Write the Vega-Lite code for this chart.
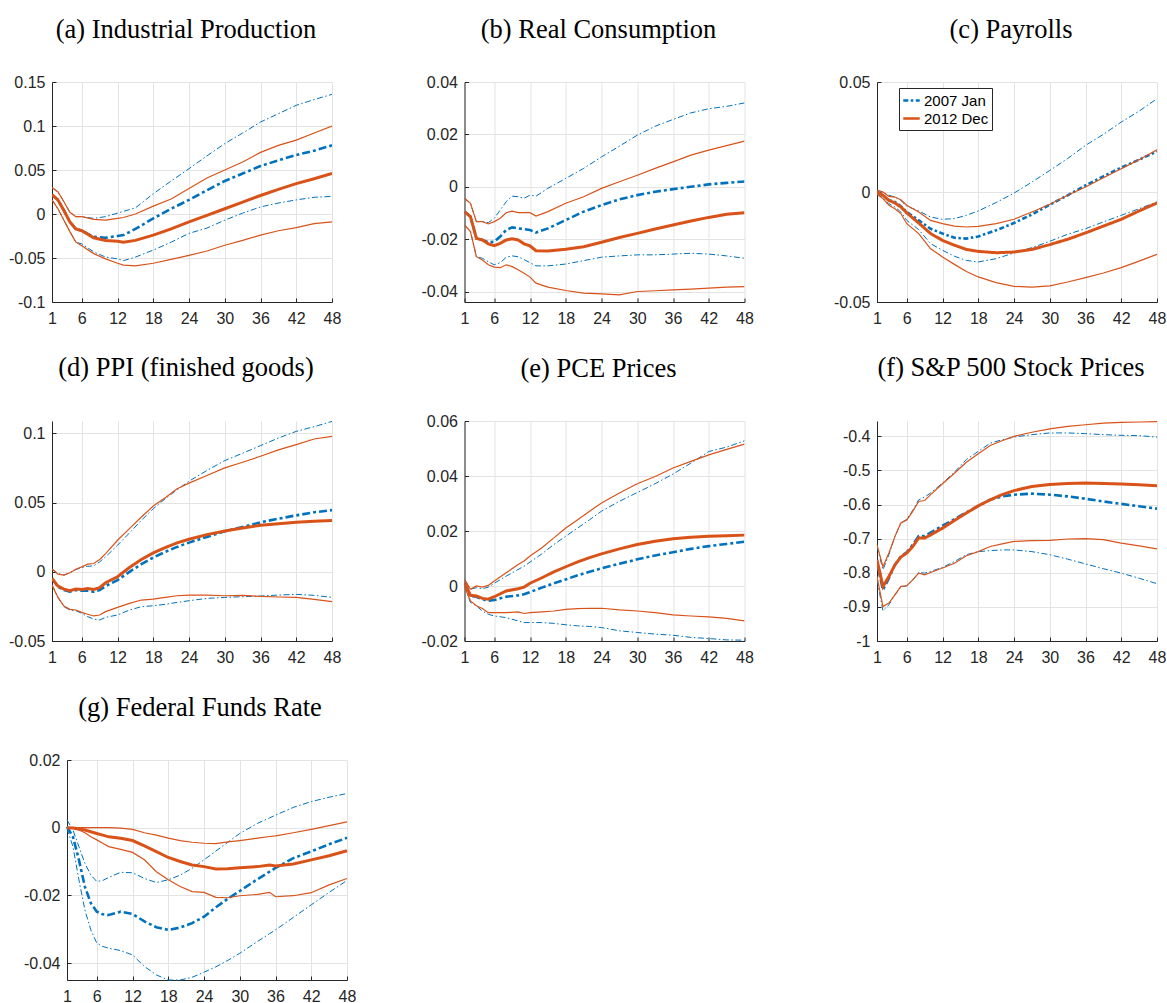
{
 "$schema": "https://vega.github.io/schema/vega-lite/v6.json",
 "padding": {"left": 8, "top": 16, "right": 5, "bottom": 0},
 "data": {"values": [
{"p":"a","h":1,"jh":0.030,"dh":0.030,"j":0.022,"d":0.022,"jl":0.016,"dl":0.016},
{"p":"a","h":2,"jh":0.025,"dh":0.025,"j":0.016,"d":0.016,"jl":0.006,"dl":0.006},
{"p":"a","h":3,"jh":0.014,"dh":0.014,"j":0.004,"d":0.004,"jl":-0.007,"dl":-0.007},
{"p":"a","h":4,"jh":0.002,"dh":0.002,"j":-0.009,"d":-0.009,"jl":-0.02,"dl":-0.02},
{"p":"a","h":5,"jh":-0.003,"dh":-0.003,"j":-0.017,"d":-0.017,"jl":-0.032,"dl":-0.032},
{"p":"a","h":6,"jh":-0.003,"dh":-0.003,"j":-0.019,"d":-0.019,"jl":-0.034,"dl":-0.036},
{"p":"a","h":8,"jh":-0.005,"dh":-0.006,"j":-0.026,"d":-0.027,"jl":-0.043,"dl":-0.045},
{"p":"a","h":10,"jh":-0.003,"dh":-0.007,"j":-0.027,"d":-0.030,"jl":-0.049,"dl":-0.051},
{"p":"a","h":12,"jh":0.001,"dh":-0.005,"j":-0.025,"d":-0.031,"jl":-0.051,"dl":-0.056},
{"p":"a","h":13,"jh":0.003,"dh":-0.004,"j":-0.024,"d":-0.032,"jl":-0.053,"dl":-0.058},
{"p":"a","h":15,"jh":0.007,"dh":0.0,"j":-0.017,"d":-0.030,"jl":-0.049,"dl":-0.059},
{"p":"a","h":18,"jh":0.023,"dh":0.009,"j":-0.005,"d":-0.024,"jl":-0.041,"dl":-0.056},
{"p":"a","h":21,"jh":0.0375,"dh":0.017,"j":0.006,"d":-0.017,"jl":-0.032,"dl":-0.0515},
{"p":"a","h":24,"jh":0.0515,"dh":0.029,"j":0.016,"d":-0.009,"jl":-0.022,"dl":-0.047},
{"p":"a","h":27,"jh":0.066,"dh":0.041,"j":0.027,"d":-0.0015,"jl":-0.016,"dl":-0.042},
{"p":"a","h":30,"jh":0.08,"dh":0.05,"j":0.0375,"d":0.006,"jl":-0.007,"dl":-0.0355},
{"p":"a","h":33,"jh":0.092,"dh":0.059,"j":0.046,"d":0.0135,"jl":0.001,"dl":-0.030},
{"p":"a","h":36,"jh":0.1045,"dh":0.07,"j":0.0545,"d":0.021,"jl":0.008,"dl":-0.024},
{"p":"a","h":39,"jh":0.114,"dh":0.078,"j":0.061,"d":0.028,"jl":0.0125,"dl":-0.019},
{"p":"a","h":42,"jh":0.1235,"dh":0.084,"j":0.067,"d":0.0345,"jl":0.016,"dl":-0.0155},
{"p":"a","h":45,"jh":0.13,"dh":0.092,"j":0.072,"d":0.040,"jl":0.019,"dl":-0.011},
{"p":"a","h":48,"jh":0.136,"dh":0.1,"j":0.078,"d":0.046,"jl":0.020,"dl":-0.009},

{"p":"b","h":1,"jh":-0.0044,"dh":-0.0044,"j":-0.0095,"d":-0.0095,"jl":-0.0146,"dl":-0.0146},
{"p":"b","h":2,"jh":-0.0063,"dh":-0.0063,"j":-0.0114,"d":-0.0114,"jl":-0.0171,"dl":-0.0171},
{"p":"b","h":3,"jh":-0.0133,"dh":-0.0133,"j":-0.0197,"d":-0.0197,"jl":-0.0267,"dl":-0.0267},
{"p":"b","h":4,"jh":-0.0133,"dh":-0.0133,"j":-0.0203,"d":-0.0203,"jl":-0.0273,"dl":-0.028},
{"p":"b","h":5,"jh":-0.0137,"dh":-0.0142,"j":-0.0212,"d":-0.0218,"jl":-0.0286,"dl":-0.0298},
{"p":"b","h":6,"jh":-0.012,"dh":-0.0133,"j":-0.021,"d":-0.0225,"jl":-0.0298,"dl":-0.0307},
{"p":"b","h":7,"jh":-0.0089,"dh":-0.012,"j":-0.019,"d":-0.0216,"jl":-0.029,"dl":-0.0309},
{"p":"b","h":8,"jh":-0.0057,"dh":-0.0099,"j":-0.0165,"d":-0.0203,"jl":-0.0269,"dl":-0.0298},
{"p":"b","h":9,"jh":-0.0036,"dh":-0.0093,"j":-0.0155,"d":-0.0199,"jl":-0.0264,"dl":-0.0305},
{"p":"b","h":10,"jh":-0.0038,"dh":-0.0099,"j":-0.0159,"d":-0.0203,"jl":-0.0267,"dl":-0.0317},
{"p":"b","h":11,"jh":-0.0044,"dh":-0.0099,"j":-0.0162,"d":-0.0218,"jl":-0.0278,"dl":-0.033},
{"p":"b","h":12,"jh":-0.0032,"dh":-0.0099,"j":-0.0165,"d":-0.0226,"jl":-0.029,"dl":-0.0345},
{"p":"b","h":13,"jh":-0.0036,"dh":-0.0112,"j":-0.0175,"d":-0.0244,"jl":-0.0302,"dl":-0.0368},
{"p":"b","h":15,"jh":-0.0006,"dh":-0.0095,"j":-0.0159,"d":-0.0245,"jl":-0.0302,"dl":-0.0383},
{"p":"b","h":18,"jh":0.0032,"dh":-0.0063,"j":-0.0127,"d":-0.0239,"jl":-0.0295,"dl":-0.0396},
{"p":"b","h":21,"jh":0.007,"dh":-0.0038,"j":-0.0095,"d":-0.0229,"jl":-0.0282,"dl":-0.0406},
{"p":"b","h":24,"jh":0.0114,"dh":-0.0006,"j":-0.007,"d":-0.0212,"jl":-0.0269,"dl":-0.0409},
{"p":"b","h":27,"jh":0.0155,"dh":0.0019,"j":-0.0048,"d":-0.0194,"jl":-0.0264,"dl":-0.0413},
{"p":"b","h":30,"jh":0.0197,"dh":0.0044,"j":-0.0032,"d":-0.0178,"jl":-0.026,"dl":-0.04},
{"p":"b","h":33,"jh":0.0231,"dh":0.007,"j":-0.0019,"d":-0.0161,"jl":-0.026,"dl":-0.0397},
{"p":"b","h":36,"jh":0.0257,"dh":0.0095,"j":-0.0009,"d":-0.0146,"jl":-0.0257,"dl":-0.0394},
{"p":"b","h":39,"jh":0.0282,"dh":0.0121,"j":0.0,"d":-0.0131,"jl":-0.0254,"dl":-0.0391},
{"p":"b","h":42,"jh":0.0298,"dh":0.014,"j":0.0009,"d":-0.0117,"jl":-0.0257,"dl":-0.0387},
{"p":"b","h":45,"jh":0.0307,"dh":0.0157,"j":0.0015,"d":-0.0105,"jl":-0.0264,"dl":-0.0383},
{"p":"b","h":48,"jh":0.032,"dh":0.0174,"j":0.002,"d":-0.0099,"jl":-0.0273,"dl":-0.0381},

{"p":"c","h":1,"jh":0.0008,"dh":0.0008,"j":0.0,"d":0.0,"jl":-0.001,"dl":-0.001},
{"p":"c","h":2,"jh":0.0,"dh":0.0,"j":-0.0015,"d":-0.0015,"jl":-0.0026,"dl":-0.003},
{"p":"c","h":3,"jh":-0.0015,"dh":-0.002,"j":-0.0038,"d":-0.0038,"jl":-0.0053,"dl":-0.006},
{"p":"c","h":4,"jh":-0.0023,"dh":-0.0023,"j":-0.0045,"d":-0.005,"jl":-0.0068,"dl":-0.0076},
{"p":"c","h":5,"jh":-0.0038,"dh":-0.0035,"j":-0.0065,"d":-0.0068,"jl":-0.0091,"dl":-0.0098},
{"p":"c","h":6,"jh":-0.0065,"dh":-0.006,"j":-0.0091,"d":-0.0095,"jl":-0.0129,"dl":-0.0144},
{"p":"c","h":8,"jh":-0.0086,"dh":-0.0091,"j":-0.0129,"d":-0.0141,"jl":-0.0171,"dl":-0.0189},
{"p":"c","h":10,"jh":-0.0114,"dh":-0.0129,"j":-0.0167,"d":-0.0189,"jl":-0.0235,"dl":-0.0258},
{"p":"c","h":12,"jh":-0.0124,"dh":-0.0144,"j":-0.0189,"d":-0.022,"jl":-0.0265,"dl":-0.0295},
{"p":"c","h":14,"jh":-0.0121,"dh":-0.0155,"j":-0.0208,"d":-0.0242,"jl":-0.0292,"dl":-0.0329},
{"p":"c","h":16,"jh":-0.0106,"dh":-0.0159,"j":-0.0212,"d":-0.0261,"jl":-0.0311,"dl":-0.0361},
{"p":"c","h":18,"jh":-0.0086,"dh":-0.0156,"j":-0.0202,"d":-0.027,"jl":-0.0318,"dl":-0.0386},
{"p":"c","h":21,"jh":-0.0048,"dh":-0.0144,"j":-0.0174,"d":-0.0276,"jl":-0.0303,"dl":-0.0412},
{"p":"c","h":24,"jh":-0.0005,"dh":-0.0124,"j":-0.0141,"d":-0.0273,"jl":-0.0277,"dl":-0.0429},
{"p":"c","h":27,"jh":0.0045,"dh":-0.0091,"j":-0.0102,"d":-0.0261,"jl":-0.0253,"dl":-0.0432},
{"p":"c","h":30,"jh":0.0098,"dh":-0.0056,"j":-0.0058,"d":-0.0239,"jl":-0.0224,"dl":-0.0427},
{"p":"c","h":33,"jh":0.0152,"dh":-0.0015,"j":-0.0015,"d":-0.0215,"jl":-0.0192,"dl":-0.0409},
{"p":"c","h":36,"jh":0.0212,"dh":0.0023,"j":0.003,"d":-0.0186,"jl":-0.0167,"dl":-0.0389},
{"p":"c","h":39,"jh":0.0262,"dh":0.0065,"j":0.0071,"d":-0.0155,"jl":-0.0136,"dl":-0.0368},
{"p":"c","h":42,"jh":0.0318,"dh":0.0106,"j":0.0111,"d":-0.0124,"jl":-0.0106,"dl":-0.0344},
{"p":"c","h":45,"jh":0.0368,"dh":0.0147,"j":0.0147,"d":-0.0086,"jl":-0.0076,"dl":-0.0314},
{"p":"c","h":48,"jh":0.0424,"dh":0.0192,"j":0.0185,"d":-0.005,"jl":-0.0045,"dl":-0.0283},

{"p":"d","h":1,"jh":0.002,"dh":0.002,"j":-0.0048,"d":-0.0048,"jl":-0.0096,"dl":-0.0096},
{"p":"d","h":2,"jh":-0.0012,"dh":-0.0017,"j":-0.0108,"d":-0.0103,"jl":-0.0185,"dl":-0.0185},
{"p":"d","h":3,"jh":-0.0024,"dh":-0.0024,"j":-0.0132,"d":-0.0125,"jl":-0.0252,"dl":-0.0247},
{"p":"d","h":4,"jh":-0.0007,"dh":-0.0007,"j":-0.0144,"d":-0.0137,"jl":-0.0276,"dl":-0.0271},
{"p":"d","h":5,"jh":0.0017,"dh":0.0019,"j":-0.0132,"d":-0.0125,"jl":-0.0281,"dl":-0.0276},
{"p":"d","h":6,"jh":0.0031,"dh":0.0036,"j":-0.0137,"d":-0.0127,"jl":-0.03,"dl":-0.0293},
{"p":"d","h":7,"jh":0.004,"dh":0.0055,"j":-0.0137,"d":-0.012,"jl":-0.0324,"dl":-0.0307},
{"p":"d","h":8,"jh":0.0043,"dh":0.006,"j":-0.0144,"d":-0.0127,"jl":-0.0341,"dl":-0.0319},
{"p":"d","h":9,"jh":0.0072,"dh":0.0089,"j":-0.0132,"d":-0.0115,"jl":-0.0348,"dl":-0.0312},
{"p":"d","h":10,"jh":0.0108,"dh":0.0132,"j":-0.0103,"d":-0.0079,"jl":-0.0329,"dl":-0.0288},
{"p":"d","h":12,"jh":0.0192,"dh":0.0228,"j":-0.006,"d":-0.0036,"jl":-0.0312,"dl":-0.0257},
{"p":"d","h":14,"jh":0.0281,"dh":0.0312,"j":0.0,"d":0.0031,"jl":-0.0276,"dl":-0.0228},
{"p":"d","h":16,"jh":0.0372,"dh":0.0396,"j":0.0055,"d":0.0089,"jl":-0.0252,"dl":-0.0204},
{"p":"d","h":18,"jh":0.0456,"dh":0.0475,"j":0.0103,"d":0.0137,"jl":-0.0245,"dl":-0.0197},
{"p":"d","h":20,"jh":0.0528,"dh":0.0535,"j":0.0144,"d":0.0175,"jl":-0.0235,"dl":-0.0185},
{"p":"d","h":22,"jh":0.0593,"dh":0.06,"j":0.018,"d":0.0209,"jl":-0.0221,"dl":-0.0173},
{"p":"d","h":24,"jh":0.0655,"dh":0.0641,"j":0.0211,"d":0.0235,"jl":-0.0209,"dl":-0.0168},
{"p":"d","h":27,"jh":0.0732,"dh":0.0696,"j":0.0252,"d":0.0269,"jl":-0.0192,"dl":-0.0168},
{"p":"d","h":30,"jh":0.0804,"dh":0.0751,"j":0.0293,"d":0.0295,"jl":-0.0185,"dl":-0.0173},
{"p":"d","h":33,"jh":0.0857,"dh":0.0792,"j":0.0324,"d":0.0317,"jl":-0.018,"dl":-0.017},
{"p":"d","h":36,"jh":0.0912,"dh":0.0835,"j":0.0358,"d":0.0336,"jl":-0.0175,"dl":-0.0178},
{"p":"d","h":39,"jh":0.0967,"dh":0.0881,"j":0.0384,"d":0.0348,"jl":-0.0168,"dl":-0.0182},
{"p":"d","h":42,"jh":0.1015,"dh":0.0919,"j":0.0408,"d":0.0358,"jl":-0.0163,"dl":-0.0185},
{"p":"d","h":45,"jh":0.1049,"dh":0.096,"j":0.043,"d":0.0365,"jl":-0.017,"dl":-0.0199},
{"p":"d","h":48,"jh":0.1087,"dh":0.0979,"j":0.0446,"d":0.037,"jl":-0.0185,"dl":-0.0216},

{"p":"e","h":1,"jh":0.0024,"dh":0.0024,"j":0.0014,"d":0.0014,"jl":-0.0002,"dl":-0.0002},
{"p":"e","h":2,"jh":-0.0012,"dh":-0.0012,"j":-0.0036,"d":-0.0034,"jl":-0.006,"dl":-0.0054},
{"p":"e","h":3,"jh":-0.0006,"dh":0.0,"j":-0.0039,"d":-0.0036,"jl":-0.0072,"dl":-0.0072},
{"p":"e","h":4,"jh":-0.001,"dh":-0.0004,"j":-0.0048,"d":-0.0045,"jl":-0.0091,"dl":-0.0082},
{"p":"e","h":5,"jh":-0.0004,"dh":0.0002,"j":-0.0054,"d":-0.0048,"jl":-0.0103,"dl":-0.0097},
{"p":"e","h":6,"jh":0.001,"dh":0.0018,"j":-0.0051,"d":-0.0039,"jl":-0.0109,"dl":-0.0097},
{"p":"e","h":8,"jh":0.0036,"dh":0.0048,"j":-0.0039,"d":-0.0018,"jl":-0.0115,"dl":-0.0097},
{"p":"e","h":10,"jh":0.006,"dh":0.0078,"j":-0.0034,"d":-0.001,"jl":-0.0127,"dl":-0.0094},
{"p":"e","h":11,"jh":0.0072,"dh":0.0091,"j":-0.003,"d":-0.0004,"jl":-0.0133,"dl":-0.01},
{"p":"e","h":12,"jh":0.0087,"dh":0.0109,"j":-0.0022,"d":0.001,"jl":-0.0133,"dl":-0.0097},
{"p":"e","h":14,"jh":0.0117,"dh":0.0139,"j":-0.0006,"d":0.003,"jl":-0.0133,"dl":-0.0094},
{"p":"e","h":16,"jh":0.0151,"dh":0.0175,"j":0.001,"d":0.0051,"jl":-0.0136,"dl":-0.0091},
{"p":"e","h":18,"jh":0.0181,"dh":0.0211,"j":0.0024,"d":0.007,"jl":-0.0141,"dl":-0.0085},
{"p":"e","h":20,"jh":0.0211,"dh":0.0241,"j":0.0039,"d":0.0088,"jl":-0.0145,"dl":-0.0082},
{"p":"e","h":22,"jh":0.0241,"dh":0.0272,"j":0.0052,"d":0.0103,"jl":-0.0147,"dl":-0.0081},
{"p":"e","h":24,"jh":0.0272,"dh":0.0302,"j":0.0064,"d":0.0117,"jl":-0.0151,"dl":-0.0081},
{"p":"e","h":27,"jh":0.0308,"dh":0.0338,"j":0.0081,"d":0.0135,"jl":-0.0163,"dl":-0.0087},
{"p":"e","h":30,"jh":0.034,"dh":0.0372,"j":0.0097,"d":0.0151,"jl":-0.0169,"dl":-0.0091},
{"p":"e","h":33,"jh":0.0372,"dh":0.0398,"j":0.0111,"d":0.0163,"jl":-0.0175,"dl":-0.0097},
{"p":"e","h":36,"jh":0.0407,"dh":0.0429,"j":0.0123,"d":0.0172,"jl":-0.0179,"dl":-0.0105},
{"p":"e","h":39,"jh":0.0447,"dh":0.0453,"j":0.0135,"d":0.0177,"jl":-0.0187,"dl":-0.0109},
{"p":"e","h":42,"jh":0.0489,"dh":0.0477,"j":0.0145,"d":0.0181,"jl":-0.0191,"dl":-0.0112},
{"p":"e","h":45,"jh":0.0505,"dh":0.0497,"j":0.0153,"d":0.0183,"jl":-0.0196,"dl":-0.0118},
{"p":"e","h":48,"jh":0.0528,"dh":0.0516,"j":0.0161,"d":0.0185,"jl":-0.0197,"dl":-0.0127},

{"p":"f","h":1,"jh":-0.723,"dh":-0.718,"j":-0.772,"d":-0.762,"jl":-0.821,"dl":-0.811},
{"p":"f","h":2,"jh":-0.791,"dh":-0.782,"j":-0.85,"d":-0.84,"jl":-0.911,"dl":-0.899},
{"p":"f","h":3,"jh":-0.747,"dh":-0.742,"j":-0.816,"d":-0.811,"jl":-0.894,"dl":-0.889},
{"p":"f","h":4,"jh":-0.694,"dh":-0.694,"j":-0.777,"d":-0.777,"jl":-0.865,"dl":-0.865},
{"p":"f","h":5,"jh":-0.654,"dh":-0.654,"j":-0.752,"d":-0.754,"jl":-0.842,"dl":-0.84},
{"p":"f","h":6,"jh":-0.643,"dh":-0.645,"j":-0.74,"d":-0.742,"jl":-0.838,"dl":-0.838},
{"p":"f","h":7,"jh":-0.617,"dh":-0.62,"j":-0.718,"d":-0.723,"jl":-0.821,"dl":-0.821},
{"p":"f","h":8,"jh":-0.586,"dh":-0.591,"j":-0.692,"d":-0.698,"jl":-0.799,"dl":-0.801},
{"p":"f","h":9,"jh":-0.578,"dh":-0.588,"j":-0.692,"d":-0.698,"jl":-0.801,"dl":-0.806},
{"p":"f","h":10,"jh":-0.566,"dh":-0.571,"j":-0.682,"d":-0.689,"jl":-0.796,"dl":-0.799},
{"p":"f","h":12,"jh":-0.537,"dh":-0.539,"j":-0.662,"d":-0.669,"jl":-0.784,"dl":-0.786},
{"p":"f","h":14,"jh":-0.505,"dh":-0.508,"j":-0.643,"d":-0.647,"jl":-0.767,"dl":-0.772},
{"p":"f","h":16,"jh":-0.468,"dh":-0.476,"j":-0.623,"d":-0.625,"jl":-0.747,"dl":-0.75},
{"p":"f","h":18,"jh":-0.444,"dh":-0.451,"j":-0.604,"d":-0.604,"jl":-0.738,"dl":-0.738},
{"p":"f","h":20,"jh":-0.42,"dh":-0.427,"j":-0.586,"d":-0.586,"jl":-0.735,"dl":-0.723},
{"p":"f","h":22,"jh":-0.41,"dh":-0.413,"j":-0.576,"d":-0.571,"jl":-0.733,"dl":-0.715},
{"p":"f","h":24,"jh":-0.402,"dh":-0.4,"j":-0.571,"d":-0.559,"jl":-0.733,"dl":-0.708},
{"p":"f","h":27,"jh":-0.395,"dh":-0.388,"j":-0.568,"d":-0.547,"jl":-0.738,"dl":-0.706},
{"p":"f","h":30,"jh":-0.39,"dh":-0.378,"j":-0.571,"d":-0.541,"jl":-0.747,"dl":-0.705},
{"p":"f","h":33,"jh":-0.39,"dh":-0.371,"j":-0.576,"d":-0.538,"jl":-0.76,"dl":-0.701},
{"p":"f","h":36,"jh":-0.392,"dh":-0.366,"j":-0.583,"d":-0.537,"jl":-0.774,"dl":-0.7},
{"p":"f","h":39,"jh":-0.395,"dh":-0.361,"j":-0.591,"d":-0.538,"jl":-0.788,"dl":-0.703},
{"p":"f","h":42,"jh":-0.397,"dh":-0.359,"j":-0.598,"d":-0.54,"jl":-0.801,"dl":-0.713},
{"p":"f","h":45,"jh":-0.398,"dh":-0.358,"j":-0.605,"d":-0.542,"jl":-0.816,"dl":-0.721},
{"p":"f","h":48,"jh":-0.402,"dh":-0.357,"j":-0.612,"d":-0.545,"jl":-0.832,"dl":-0.73},

{"p":"g","h":1,"jh":0.0023,"dh":0.0,"j":0.0003,"d":0.0,"jl":-0.0002,"dl":0.0},
{"p":"g","h":2,"jh":-0.0007,"dh":0.0,"j":-0.0027,"d":-0.0001,"jl":-0.0056,"dl":-0.0002},
{"p":"g","h":3,"jh":-0.0056,"dh":0.0,"j":-0.0095,"d":-0.0003,"jl":-0.0154,"dl":-0.0007},
{"p":"g","h":4,"jh":-0.0105,"dh":0.0,"j":-0.0174,"d":-0.0007,"jl":-0.0243,"dl":-0.0015},
{"p":"g","h":5,"jh":-0.014,"dh":0.0,"j":-0.0223,"d":-0.0012,"jl":-0.0302,"dl":-0.0027},
{"p":"g","h":6,"jh":-0.0159,"dh":0.0,"j":-0.0248,"d":-0.0017,"jl":-0.0341,"dl":-0.0036},
{"p":"g","h":7,"jh":-0.0156,"dh":0.0,"j":-0.0256,"d":-0.0022,"jl":-0.0351,"dl":-0.0046},
{"p":"g","h":8,"jh":-0.0147,"dh":0.0,"j":-0.0258,"d":-0.0027,"jl":-0.0356,"dl":-0.0056},
{"p":"g","h":10,"jh":-0.0132,"dh":-0.0001,"j":-0.0248,"d":-0.0031,"jl":-0.0363,"dl":-0.0064},
{"p":"g","h":12,"jh":-0.0133,"dh":-0.0005,"j":-0.0255,"d":-0.0038,"jl":-0.0376,"dl":-0.0073},
{"p":"g","h":14,"jh":-0.015,"dh":-0.0015,"j":-0.0277,"d":-0.0054,"jl":-0.041,"dl":-0.0095},
{"p":"g","h":16,"jh":-0.0162,"dh":-0.0022,"j":-0.0294,"d":-0.0071,"jl":-0.0435,"dl":-0.013},
{"p":"g","h":18,"jh":-0.0154,"dh":-0.0031,"j":-0.0302,"d":-0.0088,"jl":-0.045,"dl":-0.0154},
{"p":"g","h":20,"jh":-0.014,"dh":-0.0038,"j":-0.0295,"d":-0.01,"jl":-0.045,"dl":-0.0174},
{"p":"g","h":22,"jh":-0.012,"dh":-0.0043,"j":-0.0282,"d":-0.011,"jl":-0.0442,"dl":-0.0189},
{"p":"g","h":24,"jh":-0.0095,"dh":-0.0046,"j":-0.0263,"d":-0.0115,"jl":-0.0427,"dl":-0.0191},
{"p":"g","h":26,"jh":-0.0069,"dh":-0.0047,"j":-0.0235,"d":-0.0122,"jl":-0.0411,"dl":-0.0206},
{"p":"g","h":28,"jh":-0.0043,"dh":-0.0042,"j":-0.021,"d":-0.0121,"jl":-0.0392,"dl":-0.0207},
{"p":"g","h":30,"jh":-0.0017,"dh":-0.0038,"j":-0.0187,"d":-0.0118,"jl":-0.0371,"dl":-0.0201},
{"p":"g","h":33,"jh":0.0013,"dh":-0.0031,"j":-0.0152,"d":-0.0115,"jl":-0.0336,"dl":-0.0197},
{"p":"g","h":35,"jh":0.0029,"dh":-0.0026,"j":-0.013,"d":-0.011,"jl":-0.0313,"dl":-0.0191},
{"p":"g","h":36,"jh":0.0037,"dh":-0.0024,"j":-0.0119,"d":-0.0113,"jl":-0.0302,"dl":-0.0204},
{"p":"g","h":39,"jh":0.006,"dh":-0.0015,"j":-0.009,"d":-0.0107,"jl":-0.0265,"dl":-0.0201},
{"p":"g","h":42,"jh":0.0077,"dh":-0.0005,"j":-0.007,"d":-0.0095,"jl":-0.0228,"dl":-0.0192},
{"p":"g","h":45,"jh":0.009,"dh":0.0006,"j":-0.0049,"d":-0.0083,"jl":-0.0191,"dl":-0.0169},
{"p":"g","h":48,"jh":0.0101,"dh":0.0017,"j":-0.003,"d":-0.0068,"jl":-0.0156,"dl":-0.015}
 ]},
 "columns": 3,
 "bounds": "flush",
 "spacing": {"row": 119, "column": 132.5},
 "resolve": {"scale": {"color": "independent", "strokeDash": "independent"}},
 "concat": [
  {
   "title": {"text": "(a) Industrial Production"},
   "width": 280, "height": 220,
   "transform": [{"filter": {"field": "p", "equal": "a"}}, {"fold": ["j","jl","jh","d","dl","dh"], "as": ["s","v"]}],
   "encoding": {
    "x": {"field": "h", "type": "quantitative", "scale": {"domain": [1,48], "nice": false, "zero": false}, "axis": {"values": [1,6,12,18,24,30,36,42,48], "labelFlush": false}},
    "y": {"field": "v", "type": "quantitative", "scale": {"domain": [-0.1, 0.15], "nice": false, "zero": false}, "axis": {"values": [-0.1,-0.05,0,0.05,0.1,0.15], "labelExpr": "datum.value < 0 ? '-' + format(-datum.value, '~g') : format(datum.value, '~g')"}}
   },
   "layer": [
    {"transform": [{"filter": {"field": "s", "oneOf": ["jl","jh"]}}], "mark": {"type": "line", "color": "#0072BD", "strokeWidth": 1, "strokeDash": [6,2.5,1.5,2.5], "clip": true}, "encoding": {"detail": {"field": "s"}}},
    {"transform": [{"filter": {"field": "s", "equal": "j"}}], "mark": {"type": "line", "color": "#0072BD", "strokeWidth": 2.6, "strokeDash": [8,3,3,3], "clip": true}, "encoding": {}},
    {"transform": [{"filter": {"field": "s", "oneOf": ["dl","dh"]}}], "mark": {"type": "line", "color": "#D95319", "strokeWidth": 1.2, "clip": true}, "encoding": {"detail": {"field": "s"}}},
    {"transform": [{"filter": {"field": "s", "equal": "d"}}], "mark": {"type": "line", "color": "#D95319", "strokeWidth": 3, "clip": true}, "encoding": {}}
   ]
  },
  {
   "title": {"text": "(b) Real Consumption"},
   "width": 280, "height": 220,
   "transform": [{"filter": {"field": "p", "equal": "b"}}, {"fold": ["j","jl","jh","d","dl","dh"], "as": ["s","v"]}],
   "encoding": {
    "x": {"field": "h", "type": "quantitative", "scale": {"domain": [1,48], "nice": false, "zero": false}, "axis": {"values": [1,6,12,18,24,30,36,42,48], "labelFlush": false}},
    "y": {"field": "v", "type": "quantitative", "scale": {"domain": [-0.044, 0.04], "nice": false, "zero": false}, "axis": {"values": [-0.04,-0.02,0,0.02,0.04], "labelExpr": "datum.value < 0 ? '-' + format(-datum.value, '~g') : format(datum.value, '~g')"}}
   },
   "layer": [
    {"transform": [{"filter": {"field": "s", "oneOf": ["jl","jh"]}}], "mark": {"type": "line", "color": "#0072BD", "strokeWidth": 1, "strokeDash": [6,2.5,1.5,2.5], "clip": true}, "encoding": {"detail": {"field": "s"}}},
    {"transform": [{"filter": {"field": "s", "equal": "j"}}], "mark": {"type": "line", "color": "#0072BD", "strokeWidth": 2.6, "strokeDash": [8,3,3,3], "clip": true}, "encoding": {}},
    {"transform": [{"filter": {"field": "s", "oneOf": ["dl","dh"]}}], "mark": {"type": "line", "color": "#D95319", "strokeWidth": 1.2, "clip": true}, "encoding": {"detail": {"field": "s"}}},
    {"transform": [{"filter": {"field": "s", "equal": "d"}}], "mark": {"type": "line", "color": "#D95319", "strokeWidth": 3, "clip": true}, "encoding": {}}
   ]
  },
  {
   "title": {"text": "(c) Payrolls"},
   "width": 280, "height": 220,
   "transform": [{"filter": {"field": "p", "equal": "c"}}, {"fold": ["j","jl","jh","d","dl","dh"], "as": ["s","v"]}],
   "encoding": {
    "x": {"field": "h", "type": "quantitative", "scale": {"domain": [1,48], "nice": false, "zero": false}, "axis": {"values": [1,6,12,18,24,30,36,42,48], "labelFlush": false}},
    "y": {"field": "v", "type": "quantitative", "scale": {"domain": [-0.05, 0.05], "nice": false, "zero": false}, "axis": {"values": [-0.05,0,0.05], "labelExpr": "datum.value < 0 ? '-' + format(-datum.value, '~g') : format(datum.value, '~g')"}}
   },
   "layer": [
    {"transform": [{"filter": {"field": "s", "oneOf": ["jl","jh"]}}], "mark": {"type": "line", "color": "#0072BD", "strokeWidth": 1, "strokeDash": [6,2.5,1.5,2.5], "clip": true}, "encoding": {"detail": {"field": "s"}}},
    {"transform": [{"filter": {"field": "s", "equal": "j"}}], "mark": {"type": "line", "strokeWidth": 2.6, "clip": true},
     "encoding": {
      "color": {"datum": "2007 Jan", "type": "nominal", "scale": {"domain": ["2007 Jan","2012 Dec"], "range": ["#0072BD","#D95319"]}, "legend": {"title": null, "orient": "none", "legendX": 22, "legendY": 6}},
      "strokeDash": {"datum": "2007 Jan", "type": "nominal", "scale": {"domain": ["2007 Jan","2012 Dec"], "range": [[5,2.5,2.5,2.5],[1,0]]}, "legend": {"title": null, "orient": "none", "legendX": 22, "legendY": 6}}
     }},
    {"transform": [{"filter": {"field": "s", "oneOf": ["dl","dh"]}}], "mark": {"type": "line", "color": "#D95319", "strokeWidth": 1.2, "clip": true}, "encoding": {"detail": {"field": "s"}}},
    {"transform": [{"filter": {"field": "s", "equal": "d"}}], "mark": {"type": "line", "strokeWidth": 3, "clip": true},
     "encoding": {
      "color": {"datum": "2012 Dec", "type": "nominal"},
      "strokeDash": {"datum": "2012 Dec", "type": "nominal"}
     }}
   ]
  },
  {
   "title": {"text": "(d) PPI (finished goods)", "offset": 40},
   "width": 280, "height": 220,
   "transform": [{"filter": {"field": "p", "equal": "d"}}, {"fold": ["j","jl","jh","d","dl","dh"], "as": ["s","v"]}],
   "encoding": {
    "x": {"field": "h", "type": "quantitative", "scale": {"domain": [1,48], "nice": false, "zero": false}, "axis": {"values": [1,6,12,18,24,30,36,42,48], "labelFlush": false}},
    "y": {"field": "v", "type": "quantitative", "scale": {"domain": [-0.05, 0.109], "nice": false, "zero": false}, "axis": {"values": [-0.05,0,0.05,0.1], "labelExpr": "datum.value < 0 ? '-' + format(-datum.value, '~g') : format(datum.value, '~g')"}}
   },
   "layer": [
    {"transform": [{"filter": {"field": "s", "oneOf": ["jl","jh"]}}], "mark": {"type": "line", "color": "#0072BD", "strokeWidth": 1, "strokeDash": [6,2.5,1.5,2.5], "clip": true}, "encoding": {"detail": {"field": "s"}}},
    {"transform": [{"filter": {"field": "s", "equal": "j"}}], "mark": {"type": "line", "color": "#0072BD", "strokeWidth": 2.6, "strokeDash": [8,3,3,3], "clip": true}, "encoding": {}},
    {"transform": [{"filter": {"field": "s", "oneOf": ["dl","dh"]}}], "mark": {"type": "line", "color": "#D95319", "strokeWidth": 1.2, "clip": true}, "encoding": {"detail": {"field": "s"}}},
    {"transform": [{"filter": {"field": "s", "equal": "d"}}], "mark": {"type": "line", "color": "#D95319", "strokeWidth": 3, "clip": true}, "encoding": {}}
   ]
  },
  {
   "title": {"text": "(e) PCE Prices"},
   "width": 280, "height": 220,
   "transform": [{"filter": {"field": "p", "equal": "e"}}, {"fold": ["j","jl","jh","d","dl","dh"], "as": ["s","v"]}],
   "encoding": {
    "x": {"field": "h", "type": "quantitative", "scale": {"domain": [1,48], "nice": false, "zero": false}, "axis": {"values": [1,6,12,18,24,30,36,42,48], "labelFlush": false}},
    "y": {"field": "v", "type": "quantitative", "scale": {"domain": [-0.02, 0.06], "nice": false, "zero": false}, "axis": {"values": [-0.02,0,0.02,0.04,0.06], "labelExpr": "datum.value < 0 ? '-' + format(-datum.value, '~g') : format(datum.value, '~g')"}}
   },
   "layer": [
    {"transform": [{"filter": {"field": "s", "oneOf": ["jl","jh"]}}], "mark": {"type": "line", "color": "#0072BD", "strokeWidth": 1, "strokeDash": [6,2.5,1.5,2.5], "clip": true}, "encoding": {"detail": {"field": "s"}}},
    {"transform": [{"filter": {"field": "s", "equal": "j"}}], "mark": {"type": "line", "color": "#0072BD", "strokeWidth": 2.6, "strokeDash": [8,3,3,3], "clip": true}, "encoding": {}},
    {"transform": [{"filter": {"field": "s", "oneOf": ["dl","dh"]}}], "mark": {"type": "line", "color": "#D95319", "strokeWidth": 1.2, "clip": true}, "encoding": {"detail": {"field": "s"}}},
    {"transform": [{"filter": {"field": "s", "equal": "d"}}], "mark": {"type": "line", "color": "#D95319", "strokeWidth": 3, "clip": true}, "encoding": {}}
   ]
  },
  {
   "title": {"text": "(f) S&P 500 Stock Prices", "offset": 40},
   "width": 280, "height": 220,
   "transform": [{"filter": {"field": "p", "equal": "f"}}, {"fold": ["j","jl","jh","d","dl","dh"], "as": ["s","v"]}],
   "encoding": {
    "x": {"field": "h", "type": "quantitative", "scale": {"domain": [1,48], "nice": false, "zero": false}, "axis": {"values": [1,6,12,18,24,30,36,42,48], "labelFlush": false}},
    "y": {"field": "v", "type": "quantitative", "scale": {"domain": [-1, -0.355], "nice": false, "zero": false}, "axis": {"values": [-1,-0.9,-0.8,-0.7,-0.6,-0.5,-0.4], "labelExpr": "datum.value < 0 ? '-' + format(-datum.value, '~g') : format(datum.value, '~g')"}}
   },
   "layer": [
    {"transform": [{"filter": {"field": "s", "oneOf": ["jl","jh"]}}], "mark": {"type": "line", "color": "#0072BD", "strokeWidth": 1, "strokeDash": [6,2.5,1.5,2.5], "clip": true}, "encoding": {"detail": {"field": "s"}}},
    {"transform": [{"filter": {"field": "s", "equal": "j"}}], "mark": {"type": "line", "color": "#0072BD", "strokeWidth": 2.6, "strokeDash": [8,3,3,3], "clip": true}, "encoding": {}},
    {"transform": [{"filter": {"field": "s", "oneOf": ["dl","dh"]}}], "mark": {"type": "line", "color": "#D95319", "strokeWidth": 1.2, "clip": true}, "encoding": {"detail": {"field": "s"}}},
    {"transform": [{"filter": {"field": "s", "equal": "d"}}], "mark": {"type": "line", "color": "#D95319", "strokeWidth": 3, "clip": true}, "encoding": {}}
   ]
  },
  {
   "title": {"text": "(g) Federal Funds Rate", "dx": 8},
   "width": 280, "height": 220,
   "transform": [{"filter": {"field": "p", "equal": "g"}}, {"fold": ["j","jl","jh","d","dl","dh"], "as": ["s","v"]}],
   "encoding": {
    "x": {"field": "h", "type": "quantitative", "scale": {"domain": [1,48], "nice": false, "zero": false, "range": [15, 295]}, "axis": {"values": [1,6,12,18,24,30,36,42,48], "labelFlush": false}},
    "y": {"field": "v", "type": "quantitative", "scale": {"domain": [-0.045, 0.02], "nice": false, "zero": false}, "axis": {"offset": -15, "values": [-0.04,-0.02,0,0.02], "labelExpr": "datum.value < 0 ? '-' + format(-datum.value, '~g') : format(datum.value, '~g')"}}
   },
   "layer": [
    {"transform": [{"filter": {"field": "s", "oneOf": ["jl","jh"]}}], "mark": {"type": "line", "color": "#0072BD", "strokeWidth": 1, "strokeDash": [6,2.5,1.5,2.5], "clip": false}, "encoding": {"detail": {"field": "s"}}},
    {"transform": [{"filter": {"field": "s", "equal": "j"}}], "mark": {"type": "line", "color": "#0072BD", "strokeWidth": 2.6, "strokeDash": [8,3,3,3], "clip": false}, "encoding": {}},
    {"transform": [{"filter": {"field": "s", "oneOf": ["dl","dh"]}}], "mark": {"type": "line", "color": "#D95319", "strokeWidth": 1.2, "clip": false}, "encoding": {"detail": {"field": "s"}}},
    {"transform": [{"filter": {"field": "s", "equal": "d"}}], "mark": {"type": "line", "color": "#D95319", "strokeWidth": 3, "clip": false}, "encoding": {}}
   ]
  }
 ],
 "config": {
  "view": {"stroke": null},
  "background": "white",
  "axis": {"title": null, "domainColor": "#262626", "domainWidth": 1, "tickColor": "#262626", "tickSize": -4, "labelPadding": 11, "gridColor": "#e3e3e3", "gridWidth": 1, "grid": true, "labelFont": "Liberation Sans", "labelFontSize": 16, "labelColor": "#262626"},
  "axisX": {"labelPadding": 12},
  "title": {"font": "Liberation Serif", "fontSize": 26.5, "fontWeight": "normal", "color": "#000000", "frame": "group", "anchor": "middle", "baseline": "alphabetic", "offset": 31, "dx": -6},
  "legend": {"labelFont": "Liberation Sans", "labelFontSize": 15, "labelColor": "#000000", "symbolType": "stroke", "symbolSize": 270, "symbolStrokeWidth": 2.5, "strokeColor": "#262626", "fillColor": "#ffffff", "padding": 3, "rowPadding": 0, "labelOffset": 3, "cornerRadius": 0}
 }
}
